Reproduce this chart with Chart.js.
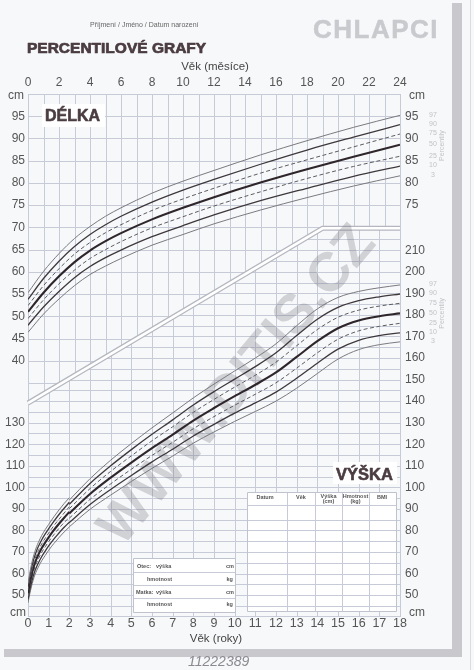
<!DOCTYPE html>
<html><head><meta charset="utf-8">
<script src="https://cdn.jsdelivr.net/npm/chart.js@4.4.1/dist/chart.umd.min.js"></script>
<style>html,body{margin:0;padding:0;background:#f7f8fa;}canvas{display:block;}</style>
</head><body>
<canvas id="c" width="474" height="670"></canvas>
<script>
// ---------- DATA ----------
// DÉLKA (length) 0-24 months
const months = [0,1,2,3,4,5,6,8,10,12,15,18,21,24];
const d97 = [55.3,60.1,64.1,67.5,70.2,72.5,74.4,77.7,80.4,82.8,86.3,89.5,92.5,95.2];
const d90 = [53.8,58.5,62.4,65.7,68.4,70.6,72.5,75.7,78.4,80.8,84.2,87.4,90.3,93.1];
const d75 = [52.4,56.9,60.7,64.0,66.6,68.8,70.6,73.8,76.4,78.8,82.2,85.2,88.1,91.0];
const d50 = [51.0,55.3,59.0,62.2,64.8,66.9,68.7,71.8,74.4,76.8,80.1,83.1,85.9,88.6];
const d25 = [49.5,53.7,57.3,60.4,63.0,65.0,66.8,69.9,72.4,74.8,78.0,81.0,83.7,86.0];
const d10 = [48.0,52.1,55.6,58.7,61.2,63.2,64.9,67.9,70.4,72.8,76.0,78.8,81.5,83.8];
const d3  = [46.4,50.5,53.9,56.9,59.4,61.3,63.0,66.0,68.4,70.8,73.9,76.7,79.3,81.6];
// VÝŠKA (height) 2-18 years
const ages = [2,3,4,5,6,7,8,9,10,11,12,13,14,15,16,17,18];
const h97 = [94.1,104.0,112.6,120.3,127.6,134.5,141.5,147.9,154.0,160.0,166.6,175.0,182.8,188.1,190.9,192.6,193.9];
const h90 = [92.1,101.8,110.0,117.5,124.6,131.3,138.2,144.4,150.2,156.0,162.4,170.4,178.0,183.5,186.6,188.4,189.7];
const h75 = [90.1,99.4,107.4,114.6,121.6,128.1,134.8,140.8,146.5,152.0,158.1,165.7,173.2,178.9,182.2,184.1,185.4];
const h50 = [87.9,96.9,104.5,111.5,118.2,124.5,131.0,136.8,142.3,147.6,153.3,160.5,167.8,173.8,177.4,179.4,180.7];
const h25 = [85.7,94.4,101.6,108.4,114.8,120.9,127.2,132.8,138.1,143.2,148.5,155.3,162.4,168.7,172.6,174.7,176.1];
const h10 = [83.7,92.0,99.0,105.5,111.8,117.7,123.8,129.2,134.4,139.2,144.2,150.6,157.6,164.1,168.2,170.4,171.7];
const h3  = [81.7,89.8,96.4,102.7,108.8,114.5,120.5,125.7,130.6,135.2,140.0,146.0,152.8,159.5,163.9,166.2,167.5];
const pctNames = ['97','90','75','50','25','10','3'];
// tick labels
const monthTicksStep = 2;
const delkaTicksLeft = [40,45,50,55,60,65,70,75,80,85,90,95];
const vyskaTicksLeft = [50,60,70,80,90,100,110,120,130];
const delkaTicksRight = [75,80,85,90,95];
const vyskaTicksRight = [50,60,70,80,90,100,110,120,130,140,150,160,170,180,190,200,210];
// separator between panels (months, délka cm)
const sepMonths = [0,19,24];
const sepDelka = [30.5,69.8,69.8];
// axis ranges
const D_MIN = -17.4, D_MAX = 100;
const V_MIN = 40.3, V_MAX = 282.5;

// ---------- STYLE ----------
const F = "'Liberation Sans', Arial, Helvetica, sans-serif";
const PAGE = '#f7f8fa';
const GRID = '#c7cbd7';
const TICK = '#555555';
const styles = {
  '97':{c:'#7a7a80',w:1,dash:[]}, '3':{c:'#7a7a80',w:1,dash:[]},
  '90':{c:'#3e383c',w:1.3,dash:[]}, '10':{c:'#3e383c',w:1.3,dash:[]},
  '75':{c:'#5c5c62',w:1,dash:[4,2.5]}, '25':{c:'#5c5c62',w:1,dash:[4,2.5]},
  '50':{c:'#2e262b',w:2.1,dash:[]}
};
const delkaSeries = [d97,d90,d75,d50,d25,d10,d3];
const vyskaSeries = [h97,h90,h75,h50,h25,h10,h3];

const datasets = [];
delkaSeries.forEach((arr,k)=>{
  const s = styles[pctNames[k]];
  datasets.push({label:'D'+pctNames[k], xAxisID:'xM', yAxisID:'yD',
    data: months.map((m,i)=>({x:m,y:arr[i]})),
    borderColor:s.c, borderWidth:s.w, borderDash:s.dash, pointRadius:0, fill:false,
    cubicInterpolationMode:'monotone'});
});
vyskaSeries.forEach((arr,k)=>{
  const s = styles[pctNames[k]];
  const dl = delkaSeries[k];
  const data = months.map((m,i)=>({x:m/12,y:dl[i]}))
    .concat([{x:2,y:null}])
    .concat(ages.map((a,i)=>({x:a,y:arr[i]})));
  datasets.push({label:'V'+pctNames[k], xAxisID:'xY', yAxisID:'yV', data,
    borderColor:s.c, borderWidth:s.w, borderDash:s.dash, pointRadius:0, fill:false,
    spanGaps:false, cubicInterpolationMode:'monotone'});
});

function d2v(d){return V_MIN + (d - D_MIN)*(V_MAX-V_MIN)/(D_MAX-D_MIN);}
function v2d(v){return D_MIN + (v - V_MIN)*(D_MAX-D_MIN)/(V_MAX-V_MIN);}

function txt(ctx,s,x,y,font,color,align,base){
  ctx.font=font; ctx.fillStyle=color; ctx.textAlign=align||'left'; ctx.textBaseline=base||'middle';
  ctx.fillText(s,x,y);
}
function heavy(ctx,s,x,y,font,color,sw){
  ctx.font=font; ctx.fillStyle=color; ctx.strokeStyle=color; ctx.lineWidth=sw; ctx.lineJoin='round';
  ctx.textAlign='left'; ctx.textBaseline='alphabetic';
  ctx.strokeText(s,x,y); ctx.fillText(s,x,y);
}
function poly(ctx,pts){ctx.beginPath();pts.forEach((p,i)=>i?ctx.lineTo(p[0],p[1]):ctx.moveTo(p[0],p[1]));ctx.closePath();}
function drawGrid(ctx,region,xs,ys,ca){
  ctx.save(); poly(ctx,region); ctx.clip();
  ctx.strokeStyle=GRID; ctx.lineWidth=1; ctx.beginPath();
  xs.forEach(x=>{const X=Math.round(x)+0.5;ctx.moveTo(X,ca.top);ctx.lineTo(X,ca.bottom);});
  ys.forEach(y=>{const Y=Math.round(y)+0.5;ctx.moveTo(ca.left,Y);ctx.lineTo(ca.right,Y);});
  ctx.stroke(); ctx.restore();
}

const decor = {
  id:'decor',
  beforeDraw(chart){
    const ctx=chart.ctx; ctx.save();
    ctx.fillStyle=PAGE; ctx.fillRect(0,0,chart.width,chart.height);
    ctx.fillStyle='#c9c9cd'; ctx.fillRect(452,3,10,654); ctx.fillRect(4,649,458,8);
    ctx.strokeStyle='#dcdce0'; ctx.lineWidth=1; ctx.beginPath(); ctx.moveTo(470.5,0); ctx.lineTo(470.5,670); ctx.stroke();
    ctx.restore();
  },
  beforeDatasetsDraw(chart){
    const {ctx, chartArea:ca, scales} = chart;
    const {xM,xY,yD,yV} = scales;
    const sp = sepMonths.map((m,i)=>[xM.getPixelForValue(m), yD.getPixelForValue(sepDelka[i])]);
    const upper = [[ca.left,ca.top],[ca.right,ca.top]].concat(sp.slice().reverse());
    const lower = sp.concat([[ca.right,ca.bottom],[ca.left,ca.bottom]]);
    const mx=[]; for(let m=0;m<=24;m++) mx.push(xM.getPixelForValue(m));
    const dy=[]; for(let d=30;d<=100;d+=5) dy.push(yD.getPixelForValue(d));
    const yx=[]; for(let a=0;a<=18;a++) yx.push(xY.getPixelForValue(a));
    const vy=[]; for(let v=45;v<=280;v+=5) vy.push(yV.getPixelForValue(v));
    ctx.save();
    drawGrid(ctx,upper,mx,dy,ca);
    drawGrid(ctx,lower,yx,vy,ca);
    ctx.strokeStyle=GRID; ctx.lineWidth=1;
    ctx.strokeRect(Math.round(ca.left)+0.5,Math.round(ca.top)+0.5,Math.round(ca.right-ca.left),Math.round(ca.bottom-ca.top));
    // separator double line
    ctx.beginPath(); sp.forEach((p,i)=>i?ctx.lineTo(p[0],p[1]):ctx.moveTo(p[0],p[1]));
    ctx.lineJoin='miter'; ctx.strokeStyle='#b4b7bf'; ctx.lineWidth=5; ctx.stroke();
    ctx.strokeStyle='#ffffff'; ctx.lineWidth=2.6; ctx.stroke();
    // watermark
    ctx.save(); ctx.translate(238,386); ctx.rotate(-50*Math.PI/180);
    txt(ctx,'WWW.DITIS.CZ',0,0,'bold 55px '+F,'rgba(110,110,122,0.28)','center','middle');
    ctx.restore();
    // DÉLKA box
    ctx.fillStyle='#ffffff'; ctx.fillRect(42,104,63,23);
    heavy(ctx,'DÉLKA',45,121,'bold 16px '+F,'#4a3c40',0.6);
    // VÝŠKA box
    ctx.fillStyle='#ffffff'; ctx.fillRect(333,462,64,22);
    heavy(ctx,'VÝŠKA',336,480,'bold 16.5px '+F,'#4a3c40',0.6);
    // measurement table
    const tL=247,tR=396,tT=492,tB=611,tH=505;
    ctx.fillStyle='#ffffff'; ctx.fillRect(tL,tT,tR-tL,tB-tT);
    ctx.strokeStyle=GRID; ctx.lineWidth=1; ctx.beginPath();
    vy.forEach(y=>{const Y=Math.round(y)+0.5; if(Y>tH+5 && Y<tB-1){ctx.moveTo(tL,Y);ctx.lineTo(tR,Y);}});
    ctx.moveTo(tL,tH+0.5); ctx.lineTo(tR,tH+0.5);
    [287,315,342,369].forEach(x=>{ctx.moveTo(x+0.5,tT);ctx.lineTo(x+0.5,tB);});
    ctx.stroke();
    ctx.strokeStyle='#bfc3cd'; ctx.strokeRect(tL+0.5,tT+0.5,tR-tL,tB-tT);
    const hf='bold 5.5px '+F, hc='#555';
    txt(ctx,'Datum',265,497.5,hf,hc,'center'); txt(ctx,'Věk',301,497.5,hf,hc,'center');
    txt(ctx,'Výška',328.5,496,hf,hc,'center'); txt(ctx,'(cm)',328.5,501,hf,hc,'center');
    txt(ctx,'Hmotnost',355.5,496,hf,hc,'center'); txt(ctx,'(kg)',355.5,501,hf,hc,'center');
    txt(ctx,'BMI',382,497.5,hf,hc,'center');
    // parents box
    const pL=133,pR=235,pT=558,pB=612;
    ctx.fillStyle='#ffffff'; ctx.fillRect(pL,pT,pR-pL,pB-pT);
    ctx.strokeStyle=GRID; ctx.beginPath();
    [572.5,585.5,598.5].forEach(Y=>{ctx.moveTo(pL,Y);ctx.lineTo(pR,Y);}); ctx.stroke();
    ctx.strokeStyle='#bfc3cd'; ctx.strokeRect(pL+0.5,pT+0.5,pR-pL,pB-pT);
    txt(ctx,'Otec:',137,566,hf,hc); txt(ctx,'výška',156,566,hf,hc); txt(ctx,'cm',226,566,hf,hc);
    txt(ctx,'hmotnost',147,579,hf,hc); txt(ctx,'kg',226.5,579,hf,hc);
    txt(ctx,'Matka:',136,592,hf,hc); txt(ctx,'výška',156,592,hf,hc); txt(ctx,'cm',226,592,hf,hc);
    txt(ctx,'hmotnost',147,604.5,hf,hc); txt(ctx,'kg',226.5,604.5,hf,hc);
    ctx.restore();
  },
  afterDraw(chart){
    const {ctx, chartArea:ca, scales} = chart;
    const {yD,yV} = scales;
    ctx.save();
    txt(ctx,'Příjmení / Jméno / Datum narození',90,25,'7px '+F,'#666','left');
    heavy(ctx,'PERCENTILOVÉ GRAFY',27,52.5,'bold 15.5px '+F,'#4a3c40',0.7);
    ctx.letterSpacing='1.5px';
    heavy(ctx,'CHLAPCI',313,38,'bold 26px '+F,'#c9cace',0.5);
    ctx.letterSpacing='0px';
    const cx=(ca.left+ca.right)/2;
    txt(ctx,'Věk (měsíce)',cx+1,67,'11.5px '+F,'#444','center');
    txt(ctx,'Věk (roky)',cx+2,639,'11.5px '+F,'#444','center');
    const cf='12px '+F;
    txt(ctx,'cm',16,96,cf,TICK,'center'); txt(ctx,'cm',409,96,cf,TICK,'left');
    txt(ctx,'cm',18,613,cf,TICK,'center'); txt(ctx,'cm',409,613,cf,TICK,'left');
    // percentile labels
    const pf='7px '+F, pc='#c2c2c8';
    const dY = delkaSeries.map(a=>yD.getPixelForValue(a[a.length-1]));
    const vY = vyskaSeries.map(a=>yV.getPixelForValue(a[a.length-1]));
    [dY,vY].forEach(ys=>{
      ys.forEach((y,k)=>txt(ctx,pctNames[k],433,y-0.5,pf,pc,'center'));
      ctx.save(); ctx.translate(442,(ys[0]+ys[6])/2); ctx.rotate(-Math.PI/2);
      txt(ctx,'Percentily',0,0,pf,pc,'center'); ctx.restore();
    });
    // handwritten note
    txt(ctx,'11222389',188,662,'italic 14px '+F,'#8a8a90','left');
    ctx.restore();
  }
};

const tickFont = {family:F, size:12};
new Chart(document.getElementById('c'), {
  type:'line',
  data:{datasets},
  options:{
    responsive:false, animation:false, devicePixelRatio:1,
    layout:{padding:0},
    plugins:{legend:{display:false}, tooltip:{enabled:false}},
    elements:{line:{tension:0}},
    scales:{
      xM:{type:'linear',position:'top',min:0,max:24,
        grid:{display:false,drawTicks:false},border:{display:false},
        ticks:{stepSize:monthTicksStep,padding:4,autoSkip:false,maxRotation:0,color:TICK,font:tickFont},
        afterFit(s){s.height=94;}},
      xY:{type:'linear',position:'bottom',min:0,max:18,
        grid:{display:false,drawTicks:false},border:{display:false},
        ticks:{stepSize:1,padding:0,autoSkip:false,maxRotation:0,color:TICK,font:{family:F,size:12.5}},
        afterFit(s){s.height=54;}},
      yD:{type:'linear',position:'left',min:D_MIN,max:D_MAX,
        grid:{display:false,drawTicks:false},border:{display:false},
        ticks:{padding:3,autoSkip:false,color:TICK,font:tickFont,callback:(v,i,t)=>t[i].text},
        afterBuildTicks(s){
          s.ticks = delkaTicksLeft.map(d=>({value:d,text:String(d)}))
            .concat(vyskaTicksLeft.map(v=>({value:v2d(v),text:String(v)})));
        },
        afterFit(s){s.width=28;}},
      yV:{type:'linear',position:'right',min:V_MIN,max:V_MAX,
        grid:{display:false,drawTicks:false},border:{display:false},
        ticks:{padding:5,autoSkip:false,color:TICK,font:tickFont,callback:(v,i,t)=>t[i].text},
        afterBuildTicks(s){
          s.ticks = vyskaTicksRight.map(v=>({value:v,text:String(v)}))
            .concat(delkaTicksRight.map(d=>({value:d2v(d),text:String(d)})));
        },
        afterFit(s){s.width=74;}}
    }
  },
  plugins:[decor]
});
</script>
</body></html>
